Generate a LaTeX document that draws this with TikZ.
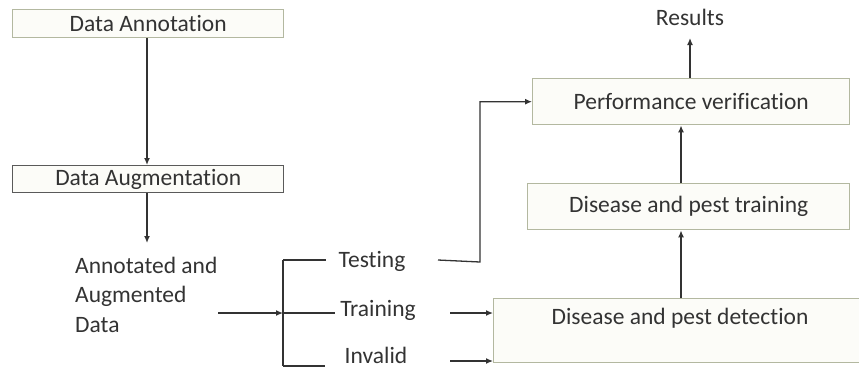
\documentclass[tikz,border=0pt]{standalone}
\usepackage{fontspec}
\setmainfont[Ligatures={NoCommon}]{Carlito}
\usetikzlibrary{arrows.meta}
\definecolor{boxline}{HTML}{B3B8A0}
\definecolor{boxline2}{HTML}{5A5A5A}
\definecolor{boxfill}{HTML}{FCFCF8}
\definecolor{ink}{HTML}{333333}
\tikzset{
  x=1pt, y=-1pt,
  box/.style={draw=boxline, line width=1.4pt, fill=boxfill, inner sep=0pt, anchor=north west},
  lbl/.style={font=\fontsize{23.5}{29.5}\selectfont, text=ink, inner sep=0pt},
  conn/.style={draw=ink, line width=1.3pt},
  arr/.style={conn, -{Latex[length=7pt,width=6pt]}},
}
\begin{document}
\begin{tikzpicture}
\useasboundingbox (0,0) rectangle (859,368);
% boxes
\node[box, minimum width=271pt, minimum height=28pt] (ann) at (12,9) {};
\node[lbl] at (ann.center) {Data Annotation};
\node[box, draw=boxline2, minimum width=271pt, minimum height=27pt] (aug) at (12,165) {};
\node[lbl] at (aug.center) {Data Augmentation};
\node[box, minimum width=317pt, minimum height=46pt] (perf) at (532,78) {};
\node[lbl] at (perf.center) {Performance verification};
\node[box, minimum width=322pt, minimum height=46pt] (train) at (527,183) {};
\node[lbl] at (train.center) {Disease and pest training};
\node[box, minimum width=368pt, minimum height=64pt] (det) at (493,298) {};
\node[lbl] at (680,318) {Disease and pest detection};
% texts
\node[lbl, align=left, anchor=base west] (data) at (75,332) {Annotated and\\Augmented\\Data};
\node[lbl] (res) at (690,17) {Results};
\node[lbl] (test) at (372,261) {Testing};
\node[lbl] (trn) at (378,310) {Training};
\node[lbl] (inv) at (376,355) {Invalid};
% coordinates
\coordinate (dataout) at (218,313);
\coordinate (brk) at (283,313);
\coordinate (brktop) at (283,260);
\coordinate (brkbot) at (283,366);
\coordinate (testout) at (438,260);
\coordinate (testturn) at (480,262);
\coordinate (trnout) at (450,313);
\coordinate (invout) at (450,361);
\coordinate (augin) at (147,243);
% connectors
\draw[arr] (ann.south -| 147,0) -- (aug.north -| 147,0);
\draw[arr] (aug.south -| 147,0) -- (augin);
\draw[arr] (dataout) -- (brk);
\draw[conn] (brktop) -- (brkbot);
\draw[conn] (brktop) -- (326,260);
\draw[conn] (brk) -- (335,313);
\draw[conn] (brkbot) -- (325,366);
\draw[arr] (testout) -- (testturn) -- (testturn |- perf.west) -- (perf.west);
\draw[arr] (trnout) -- (trnout -| det.west);
\draw[arr] (invout) -- (invout -| det.west);
\draw[arr] (det.north -| 681,0) -- (train.south -| 681,0);
\draw[arr] (train.north -| 681,0) -- (perf.south -| 681,0);
\draw[arr] (perf.north -| 690,0) -- (690,38);
\end{tikzpicture}
\end{document}
